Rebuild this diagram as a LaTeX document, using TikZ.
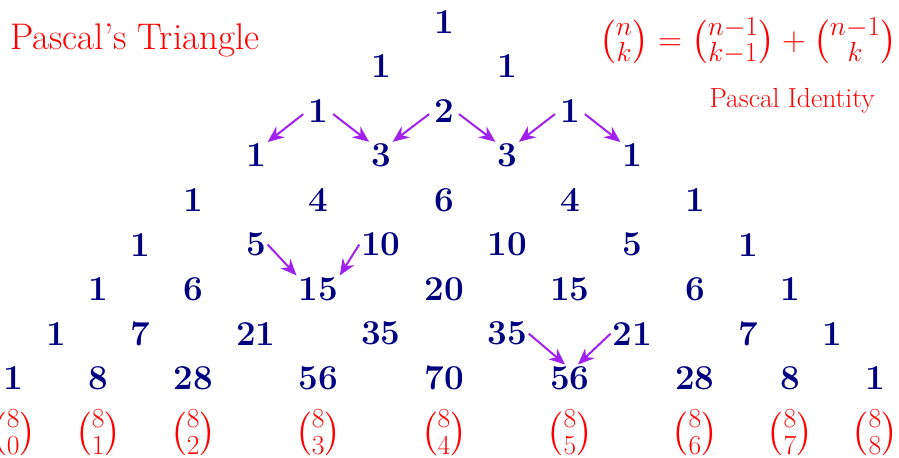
\documentclass[tikz,border=0pt]{standalone}
\usepackage{amsmath,amssymb}
\usepackage{xcolor}
\usepackage{tikz}
\usetikzlibrary{arrows.meta}

\definecolor{navynum}{RGB}{0,0,128}
\definecolor{arrowviolet}{RGB}{160,32,240}

\begin{document}
\begin{tikzpicture}[font=\fontsize{22.8}{27}\selectfont,
  num/.style={text=navynum, inner sep=1pt, font=\fontsize{21.9}{26}\selectfont\bfseries},
  bin/.style={text=red, font=\fontsize{22.8}{27}\selectfont},
  sumarrow/.style={-{Stealth[length=3.6mm,width=3mm]}, arrowviolet, line width=1.25pt}]
  \useasboundingbox (-9.77,0.48) rectangle (10.01,-9.59);
  % headings
  \node[red, inner sep=0pt, anchor=base west, font=\fontsize{23.2}{28}\selectfont] (title) at (-9.55,-0.62) {Pascal's Triangle};
  \node[red, inner sep=0pt] (identity) at (6.69,-0.42) {$\binom{n}{k}=\binom{n-1}{k-1}+\binom{n-1}{k}$};
  \node[red, inner sep=0pt, font=\LARGE, anchor=base] (idlabel) at (7.66,-1.89) {Pascal Identity};
  % row 0
  \node[num] (p0-0) at (0,0) {1};
  % row 1
  \node[num] (p1-0) at (-1.39,-0.98) {1};
  \node[num] (p1-1) at (1.39,-0.98) {1};
  % row 2
  \node[num] (p2-0) at (-2.77,-1.96) {1};
  \node[num] (p2-1) at (0,-1.96) {2};
  \node[num] (p2-2) at (2.77,-1.96) {1};
  % row 3
  \node[num] (p3-0) at (-4.14,-2.94) {1};
  \node[num] (p3-1) at (-1.39,-2.94) {3};
  \node[num] (p3-2) at (1.39,-2.94) {3};
  \node[num] (p3-3) at (4.14,-2.94) {1};
  % row 4
  \node[num] (p4-0) at (-5.52,-3.92) {1};
  \node[num] (p4-1) at (-2.77,-3.92) {4};
  \node[num] (p4-2) at (0,-3.92) {6};
  \node[num] (p4-3) at (2.77,-3.92) {4};
  \node[num] (p4-4) at (5.52,-3.92) {1};
  % row 5
  \node[num] (p5-0) at (-6.69,-4.90) {1};
  \node[num] (p5-1) at (-4.14,-4.90) {5};
  \node[num] (p5-2) at (-1.39,-4.90) {10};
  \node[num] (p5-3) at (1.39,-4.90) {10};
  \node[num] (p5-4) at (4.14,-4.90) {5};
  \node[num] (p5-5) at (6.69,-4.90) {1};
  % row 6
  \node[num] (p6-0) at (-7.61,-5.88) {1};
  \node[num] (p6-1) at (-5.52,-5.88) {6};
  \node[num] (p6-2) at (-2.77,-5.88) {15};
  \node[num] (p6-3) at (0,-5.88) {20};
  \node[num] (p6-4) at (2.77,-5.88) {15};
  \node[num] (p6-5) at (5.52,-5.88) {6};
  \node[num] (p6-6) at (7.61,-5.88) {1};
  % row 7
  \node[num] (p7-0) at (-8.54,-6.86) {1};
  \node[num] (p7-1) at (-6.69,-6.86) {7};
  \node[num] (p7-2) at (-4.14,-6.86) {21};
  \node[num] (p7-3) at (-1.39,-6.86) {35};
  \node[num] (p7-4) at (1.39,-6.86) {35};
  \node[num] (p7-5) at (4.14,-6.86) {21};
  \node[num] (p7-6) at (6.69,-6.86) {7};
  \node[num] (p7-7) at (8.54,-6.86) {1};
  % row 8
  \node[num] (p8-0) at (-9.48,-7.84) {1};
  \node[num] (p8-1) at (-7.61,-7.84) {8};
  \node[num] (p8-2) at (-5.52,-7.84) {28};
  \node[num] (p8-3) at (-2.77,-7.84) {56};
  \node[num] (p8-4) at (0,-7.84) {70};
  \node[num] (p8-5) at (2.77,-7.84) {56};
  \node[num] (p8-6) at (5.52,-7.84) {28};
  \node[num] (p8-7) at (7.61,-7.84) {8};
  \node[num] (p8-8) at (9.48,-7.84) {1};
  % binomial labels under row 8
  \node[bin] (b0) at (-9.48,-9.05) {$\binom{8}{0}$};
  \node[bin] (b1) at (-7.61,-9.05) {$\binom{8}{1}$};
  \node[bin] (b2) at (-5.52,-9.05) {$\binom{8}{2}$};
  \node[bin] (b3) at (-2.77,-9.05) {$\binom{8}{3}$};
  \node[bin] (b4) at (0,-9.05) {$\binom{8}{4}$};
  \node[bin] (b5) at (2.77,-9.05) {$\binom{8}{5}$};
  \node[bin] (b6) at (5.52,-9.05) {$\binom{8}{6}$};
  \node[bin] (b7) at (7.61,-9.05) {$\binom{8}{7}$};
  \node[bin] (b8) at (9.48,-9.05) {$\binom{8}{8}$};
  % sums
  \draw[sumarrow] ([shift={(-2pt,-2pt)}]p2-0.west) -- (p3-0.north east);
  \draw[sumarrow] ([shift={(2pt,-2pt)}]p2-0.east) -- (p3-1.north west);
  \draw[sumarrow] ([shift={(-2pt,-2pt)}]p2-1.west) -- (p3-1.north east);
  \draw[sumarrow] ([shift={(2pt,-2pt)}]p2-1.east) -- (p3-2.north west);
  \draw[sumarrow] ([shift={(-2pt,-2pt)}]p2-2.west) -- (p3-2.north east);
  \draw[sumarrow] ([shift={(2pt,-2pt)}]p2-2.east) -- (p3-3.north west);
  \draw[sumarrow] (p5-1.east) -- (p6-2.north west);
  \draw[sumarrow] (p5-2.west) -- (p6-2.north east);
  \draw[sumarrow] (p7-4.east) -- ([xshift=-3pt]p8-5.north);
  \draw[sumarrow] (p7-5.west) -- ([xshift=5pt]p8-5.north);
\end{tikzpicture}
\end{document}
